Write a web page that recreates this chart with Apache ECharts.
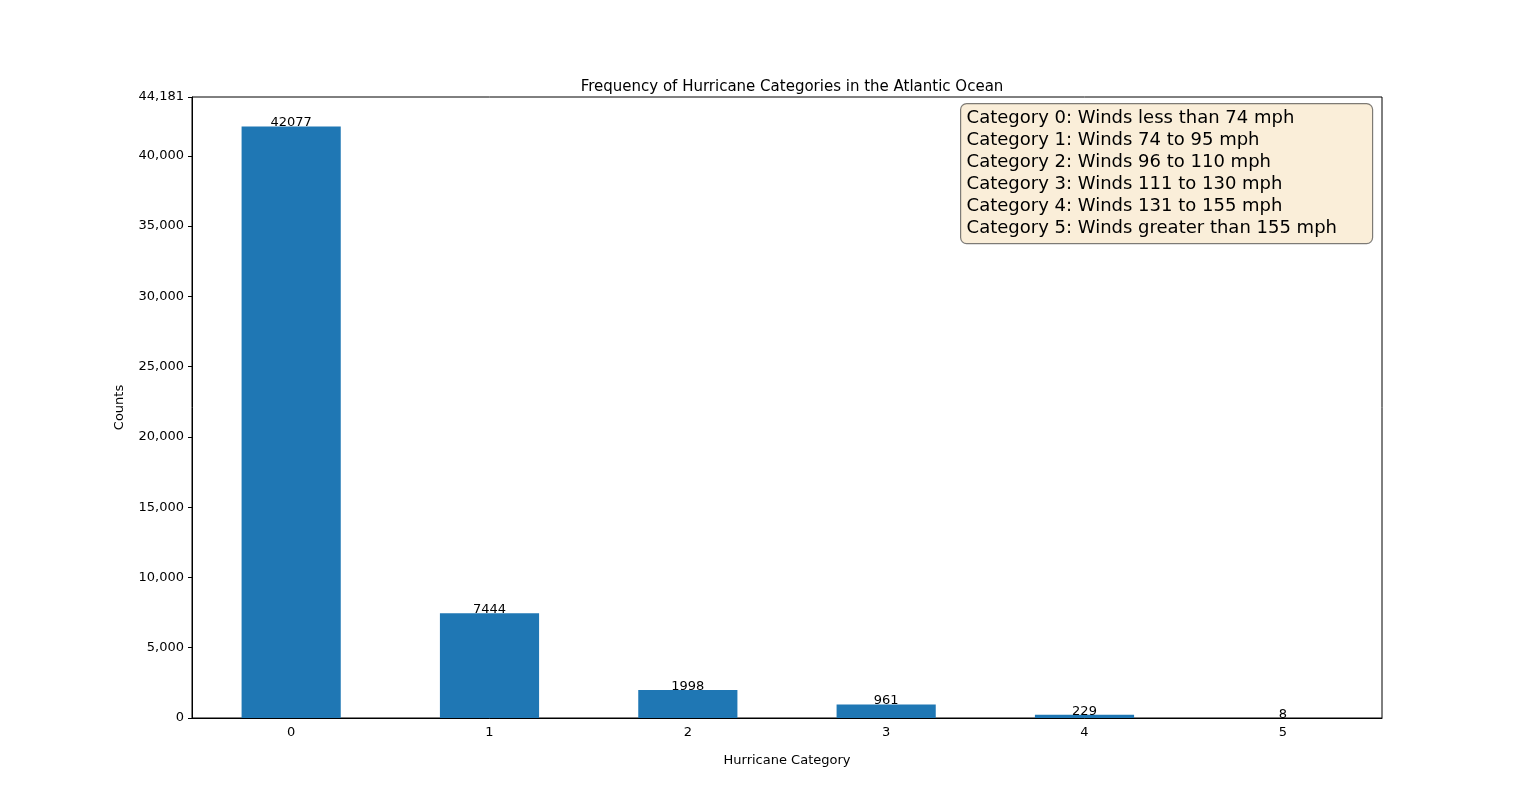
<!DOCTYPE html>
<html><head><meta charset="utf-8">
<script src="https://cdn.jsdelivr.net/npm/echarts@6/dist/echarts.min.js"></script>
<style>html,body{margin:0;padding:0;background:#fff}#main{width:1536px;height:807px}</style>
</head><body><div id="main"></div>
<script>
var categories = ['0', '1', '2', '3', '4', '5'];
var counts = [42077, 7444, 1998, 961, 229, 8];
var legendLines = [
	'Category 0: Winds less than 74 mph',
	'Category 1: Winds 74 to 95 mph',
	'Category 2: Winds 96 to 110 mph',
	'Category 3: Winds 111 to 130 mph',
	'Category 4: Winds 131 to 155 mph',
	'Category 5: Winds greater than 155 mph'
];

var font = 'DejaVu Sans';
var myChart = echarts.init(document.getElementById('main'));
var option = {
	animation: false,
	textStyle: { fontFamily: font },
	title: {
		text: 'Frequency of Hurricane Categories in the Atlantic Ocean',
		left: 787, top: 75, textAlign: 'center',
		textStyle: { fontFamily: font, fontSize: 15, fontWeight: 'normal', color: '#000' }
	},
	grid: { left: 192, right: 154, top: 97, bottom: 89, show: true, borderColor: '#000', borderWidth: 1 },
	xAxis: {
		type: 'category',
		data: categories,
		name: 'Hurricane Category',
		nameLocation: 'middle', nameGap: 36,
		nameTextStyle: { fontSize: 13, color: '#000' },
		axisLine: { lineStyle: { color: '#000' } },
		axisTick: { alignWithLabel: true, length: 4, lineStyle: { color: '#000' } },
		axisLabel: { fontSize: 13, color: '#000', margin: 8 }
	},
	yAxis: {
		type: 'value',
		min: 0, max: 44181, interval: 5000,
		name: 'Counts',
		nameLocation: 'middle', nameGap: 66,
		nameTextStyle: { fontSize: 13, color: '#000' },
		splitLine: { show: false },
		axisLine: { show: true, lineStyle: { color: '#000' } },
		axisTick: { show: true, length: 4, lineStyle: { color: '#000' } },
		axisLabel: { fontSize: 13, color: '#000', margin: 8 }
	},
	series: [{
		type: 'bar',
		data: counts,
		barWidth: '50%',
		itemStyle: { color: '#1f77b4' },
		label: { show: true, position: 'top', distance: -3, fontSize: 13, color: '#000' }
	}],
	graphic: [{
		type: 'group',
		left: 960, top: 103,
		children: [{
			type: 'rect',
			shape: { x: 0, y: 0, width: 412, height: 140, r: 6 },
			style: { fill: 'rgba(245,222,179,0.5)', stroke: 'rgba(0,0,0,0.5)', lineWidth: 1.2 }
		}, {
			type: 'text',
			x: 6, y: 4,
			style: {
				text: legendLines.join('\n'),
				font: '18px "DejaVu Sans"',
				lineHeight: 22,
				fill: '#000'
			}
		}]
	}]
};
myChart.setOption(option);
</script>
</body></html>
